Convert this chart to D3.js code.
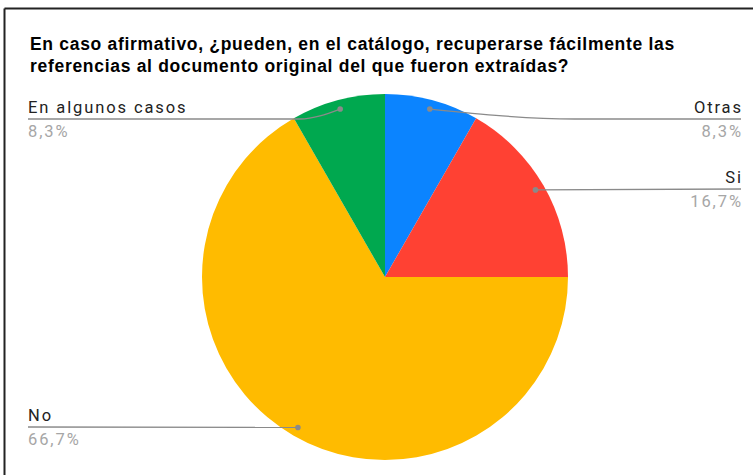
<!DOCTYPE html>
<html>
<head>
<meta charset="utf-8">
<script src="https://cdn.jsdelivr.net/npm/d3@7"></script>
<style>
  body { margin: 0; background: #fff; }
  svg { display: block; font-family: "Liberation Sans", Arial, sans-serif; }
  .lbl { font-family: Roboto, "Liberation Sans", sans-serif; font-size: 16.5px; letter-spacing: 1.9px; }
</style>
</head>
<body>
<svg id="chart" width="753" height="475"></svg>
<script>
// chart data
const categories = ["Otras", "Si", "No", "En algunos casos"];
const values = [8.3, 16.7, 66.7, 8.3];
const valueLabels = ["8,3%", "16,7%", "66,7%", "8,3%"];
const colors = ["#0b84ff", "#ff4133", "#ffbb00", "#00a84f"];
const titleLines = [
  "En caso afirmativo, ¿pueden, en el catálogo, recuperarse fácilmente las",
  "referencias al documento original del que fueron extraídas?"
];

const W = 753, H = 475,
  cx = 385, cy = 277,
  radius = 183;

const svg = d3.select("#chart");

// frame (only top + left edges show in the crop)
svg.append("line").attr("x1", 4.5).attr("y1", 8.5).attr("x2", W).attr("y2", 8.5)
  .attr("stroke", "#222").attr("stroke-width", 2);
svg.append("line").attr("x1", 4.5).attr("y1", 8.5).attr("x2", 4.5).attr("y2", H)
  .attr("stroke", "#222").attr("stroke-width", 2);

// title
svg.append("g").selectAll("text")
  .data(titleLines)
  .join("text")
  .attr("x", 30)
  .attr("y", (d, i) => 50 + i * 22)
  .attr("font-size", 17.5)
  .attr("font-weight", "bold")
  .attr("letter-spacing", 0.7)
  .attr("fill", "#000")
  .text(d => d);

const pie = d3.pie().sort(null).value(d => d);
const arcs = pie(values);

const g = svg.append("g").attr("transform", `translate(${cx},${cy})`);

g.selectAll("path")
  .data(arcs)
  .join("path")
  .attr("fill", (d, i) => colors[i])
  .attr("d", d3.arc().innerRadius(0).outerRadius(radius));

// label placement: side, label line y, elbow x
const dotArc = d3.arc().innerRadius(radius * 0.95).outerRadius(radius * 0.95);
const labelInfo = [
  { side: "right", y: 119, elbow: 575 },
  { side: "right", y: 189, elbow: null },
  { side: "left", y: 427, elbow: null },
  { side: "left", y: 119, elbow: 300 }
];

const lab = svg.append("g");
arcs.forEach((a, i) => {
  const c = dotArc.centroid(a);
  const px = cx + c[0], py = cy + c[1];
  const info = labelInfo[i];
  const endX = info.side === "right" ? 741 : 28;
  const pts = [[px, py]];
  if (info.elbow !== null) pts.push([info.elbow, info.y]);
  pts.push([endX, info.y]);

  lab.append("path")
    .attr("d", d3.line().curve(d3.curveMonotoneX)(pts.slice().sort((p, q) => p[0] - q[0])))
    .attr("fill", "none")
    .attr("stroke", "#8a8a8a")
    .attr("stroke-width", 1.3);
  lab.append("circle")
    .attr("cx", px).attr("cy", py).attr("r", 2.8)
    .attr("fill", "#8a8a8a");

  const anchor = info.side === "right" ? "end" : "start";
  // trailing letter-spacing shifts end-anchored text; compensate
  const dx = info.side === "right" ? 1.9 : 0;
  lab.append("text")
    .attr("class", "lbl")
    .attr("x", endX + dx).attr("y", info.y - 6)
    .attr("text-anchor", anchor)
    .attr("fill", "#222")
    .text(categories[i]);
  lab.append("text")
    .attr("class", "lbl")
    .attr("x", endX + dx).attr("y", info.y + 18)
    .attr("text-anchor", anchor)
    .attr("fill", "#a6a6a6")
    .text(valueLabels[i]);
});
</script>
</body>
</html>
